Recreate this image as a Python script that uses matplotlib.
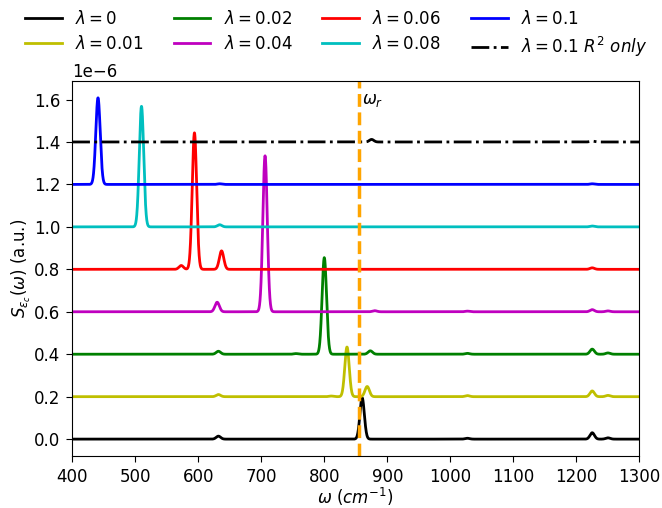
import numpy as np
import matplotlib
matplotlib.use("Agg")
import matplotlib.pyplot as plt

plt.rcParams["font.size"] = 12
plt.rcParams["xtick.major.size"] = 4.2
plt.rcParams["ytick.major.size"] = 4.2
plt.rcParams["xtick.major.pad"] = 4.2
plt.rcParams["ytick.major.pad"] = 4.2

# peak tables (centre in cm^-1, height in units of 1e-6)
labels = [r"$\lambda = 0$", r"$\lambda = 0.01$", r"$\lambda = 0.02$", r"$\lambda = 0.04$",
          r"$\lambda = 0.06$", r"$\lambda = 0.08$", r"$\lambda = 0.1$",
          r"$\lambda = 0.1\ R^2\ only$"]
colors = ["k", "y", "g", "m", "r", "c", "b", "k"]
offsets = [0.0, 0.2, 0.4, 0.6, 0.8, 1.0, 1.2, 1.4]

centres = [
    [632, 860, 1027, 1225, 1250],
    [632, 811, 836, 868, 1027, 1225, 1250],
    [632, 755, 800, 873, 1027, 1225, 1250],
    [630, 706, 880, 1027, 1225, 1250],
    [573, 594, 637, 1225],
    [634, 510, 1225],
    [441, 634, 1225],
    [875, 1225],
]
heights = [
    [0.014, 0.195, 0.004, 0.030, 0.006],
    [0.010, 0.003, 0.234, 0.048, 0.005, 0.027, 0.006],
    [0.014, 0.003, 0.455, 0.016, 0.004, 0.024, 0.006],
    [0.045, 0.735, 0.005, 0.003, 0.010, 0.004],
    [0.018, 0.643, 0.087, 0.007],
    [0.010, 0.568, 0.004],
    [0.408, 0.003, 0.003],
    [0.012, 0.004],
]
sigma = 3.5
omega_r = 855

omega = np.linspace(400, 1300, 6000)


def spectrum(cs, hs):
    s = np.zeros_like(omega)
    for c, h in zip(cs, hs):
        s += h * np.exp(-0.5 * ((omega - c) / sigma) ** 2)
    return s


fig = plt.figure(figsize=(6.62, 5.08), dpi=100)
ax = fig.add_axes([0.109, 0.102, 0.857, 0.739])

for i, (lab, col, off) in enumerate(zip(labels, colors, offsets)):
    y = (off + spectrum(centres[i], heights[i])) * 1e-6
    ls = "-." if i == len(labels) - 1 else "-"
    ax.plot(omega, y, color=col, lw=2, ls=ls, label=lab)

ax.axvline(omega_r, color="orange", lw=2.5, ls="--")
ax.text(omega_r + 5, 1.6e-6, r"$\omega_r$", fontsize=12, va="center")

ax.set_xlim(400, 1300)
ax.set_xticks(np.arange(400, 1301, 100))
ax.set_xlabel(r"$\omega\ (cm^{-1})$", labelpad=0)
ax.set_ylabel(r"$S_{\epsilon_c}(\omega)$ (a.u.)", labelpad=1)

fig.legend(loc="upper center", bbox_to_anchor=(0.508, 1.01), ncol=4, frameon=False,
           handlelength=2.2, columnspacing=1.8, labelspacing=0.4)

fig.savefig("out.png", dpi=100)
